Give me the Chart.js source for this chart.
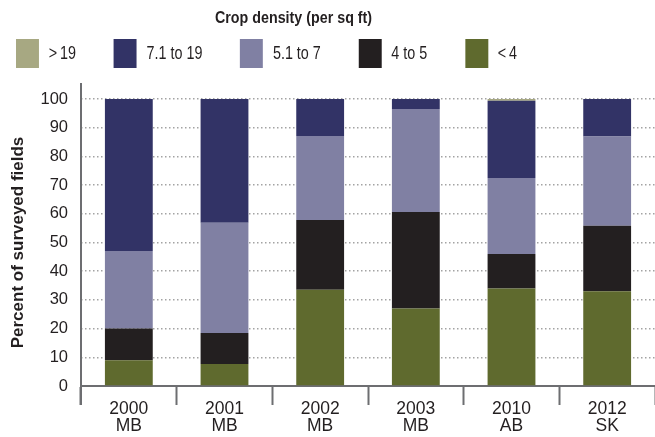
<!DOCTYPE html>
<html lang="en">
<head>
  <meta charset="UTF-8" />
  <title>Crop density</title>
  <style>
    html, body {
      margin: 0;
      padding: 0;
      background: #fff;
    }
    #wrap {
      position: relative;
      width: 655px;
      height: 437px;
      overflow: hidden;
      font-family: 'Liberation Sans', Arial, sans-serif;
      color: #231f20;
    }
    #chart {
      position: absolute;
      left: 0;
      top: 0;
    }
    /* no condensed face installed, so squeeze the header text a bit */
    #legend-title {
      position: absolute;
      left: 215px;
      top: 8px;
      font-weight: bold;
      font-size: 17px;
      white-space: nowrap;
      transform: scaleX(0.84);
      transform-origin: left top;
    }
    #legend {
      position: absolute;
      left: 16px;
      top: 39px;
      display: flex;
      gap: 46px;
      font-size: 17.5px;
      transform: scaleX(0.82);
      transform-origin: left top;
    }
    .item {
      display: flex;
      align-items: center;
      white-space: nowrap;
    }
    .box {
      width: 28px;
      height: 29px;
      margin-right: 12px;
    }
  </style>
</head>
<body>
  <div id="wrap">
    <canvas id="chart" width="655" height="437"></canvas>
    <div id="legend-title">Crop density (per sq ft)</div>
    <div id="legend"></div>
  </div>

  <script src="https://cdn.jsdelivr.net/npm/chart.js"></script>
  <script>
    const categories = [['2000', 'MB'], ['2001', 'MB'], ['2002', 'MB'], ['2003', 'MB'], ['2010', 'AB'], ['2012', 'SK']];
    const yTicks = [0, 10, 20, 30, 40, 50, 60, 70, 80, 90, 100];

    // stacked bottom to top
    const seriesNames = ['<\u20094', '4 to 5', '5.1 to 7', '7.1 to 19', '>\u200919'];
    const seriesColors = ['#5f6a2e', '#231f20', '#8080a3', '#323366', '#a7a882'];
    const below4 = [9, 7.7, 33.5, 27, 34, 33];
    const from4to5 = [11, 10.8, 24.3, 33.6, 12, 22.8];
    const from5to7 = [27, 38.4, 29.3, 35.9, 26.5, 31.1];
    const from7to19 = [53, 43.1, 12.9, 3.5, 26.9, 13.1];
    const above19 = [0, 0, 0, 0, 0.6, 0];
    const seriesValues = [below4, from4to5, from5to7, from7to19, above19];

    const axisColor = '#6d6e71';

    // legend, top series first
    const legendEl = document.getElementById('legend');
    for (let i = seriesNames.length - 1; i >= 0; i--) {
      const item = document.createElement('div');
      item.className = 'item';
      const box = document.createElement('div');
      box.className = 'box';
      box.style.background = seriesColors[i];
      const txt = document.createElement('span');
      txt.textContent = seriesNames[i];
      item.appendChild(box);
      item.appendChild(txt);
      legendEl.appendChild(item);
    }

    // y axis line runs a bit past the plot at both ends
    const yAxisLine = {
      id: 'yAxisLine',
      afterDraw(chart) {
        const { ctx, chartArea } = chart;
        ctx.save();
        ctx.strokeStyle = axisColor;
        ctx.lineWidth = 2;
        ctx.beginPath();
        ctx.moveTo(chartArea.left, chartArea.top - 16);
        ctx.lineTo(chartArea.left, chartArea.bottom + 19);
        ctx.stroke();
        ctx.restore();
      }
    };

    new Chart(document.getElementById('chart'), {
      type: 'bar',
      data: {
        labels: categories,
        datasets: seriesValues.map((vals, i) => ({
          label: seriesNames[i],
          data: vals,
          backgroundColor: seriesColors[i],
          borderWidth: 0,
          barPercentage: 0.5,
          categoryPercentage: 1
        }))
      },
      options: {
        responsive: false,
        animation: false,
        layout: { padding: { top: 99, right: -2, left: 0, bottom: 0 } },
        plugins: {
          legend: { display: false },
          tooltip: { enabled: false }
        },
        scales: {
          x: {
            stacked: true,
            afterFit(scale) { scale.height = 51; },
            grid: {
              offset: true,
              drawOnChartArea: false,
              drawTicks: true,
              tickLength: 19,
              tickColor: axisColor,
              tickWidth: 2,
              color: axisColor
            },
            border: { color: axisColor, width: 2 },
            ticks: {
              color: '#231f20',
              padding: -4,
              maxRotation: 0,
              font: { family: "'Liberation Sans', Arial, sans-serif", size: 17.5, lineHeight: '17px' }
            }
          },
          y: {
            stacked: true,
            min: 0,
            max: 100,
            afterFit(scale) { scale.width = 81; },
            afterBuildTicks(scale) { scale.ticks = yTicks.map(v => ({ value: v })); },
            grid: {
              drawTicks: false,
              color: ctx => ctx.tick && ctx.tick.value === 0 ? 'rgba(0,0,0,0)' : '#a3a3a3',
              lineWidth: 1.5
            },
            border: { display: false, dash: [1.5, 2.5] },
            ticks: {
              color: '#231f20',
              padding: 13,
              font: { family: "'Liberation Sans', Arial, sans-serif", size: 16.5 }
            },
            title: {
              display: true,
              text: 'Percent of surveyed fields',
              color: '#231f20',
              padding: { top: 8, bottom: 0 },
              font: { family: "'Liberation Sans', Arial, sans-serif", size: 17, weight: 'bold' }
            }
          }
        }
      },
      plugins: [yAxisLine]
    });
  </script>
</body>
</html>
